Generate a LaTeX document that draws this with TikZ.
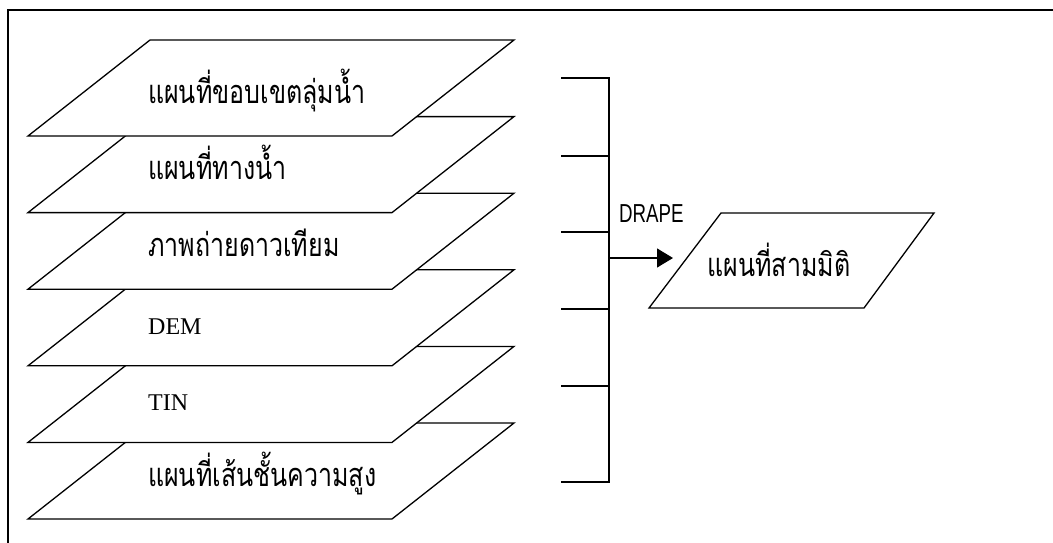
\documentclass[tikz,border=0pt]{standalone}
\usepackage{fontspec}
\usepackage{graphicx}
\setmainfont{Liberation Serif}
\newfontfamily\thaifont[Script=Thai]{Loma}
\newfontfamily\drapefont{Liberation Sans}
\newcommand{\thtext}[1]{\scalebox{1}[1.3]{#1}}
\usetikzlibrary{arrows.meta}
\tikzset{
  layerbox/.style={draw=black, fill=white, line width=1.3pt, line join=miter},
  thailabel/.style={anchor=base west, inner sep=0pt, font=\thaifont\fontsize{25}{30}\selectfont},
  latlabel/.style={anchor=base west, inner sep=0pt, font=\fontsize{24}{26}\selectfont},
  wire/.style={draw=black, line width=1.3pt},
}
\begin{document}
\begin{tikzpicture}[x=1pt,y=-1pt]
\useasboundingbox (0,0) rectangle (1053,543);
\draw[line width=1.6pt] (8,543) -- (8,10) -- (1053,10);
% layers from bottom to top
\foreach \i/\b in {6/519, 5/442.4, 4/365.8, 3/289.2, 2/212.6, 1/136}{
  \path[layerbox] (28,\b) -- (392,\b) -- (514,\b-96) -- (150,\b-96) -- cycle;
}
\node[thailabel] (l1) at (148,103) {\thtext{แผนที่ขอบเขตลุ่มน้ำ}};
\node[thailabel] (l2) at (148,179.6) {\thtext{แผนที่ทางน้ำ}};
\node[thailabel] (l3) at (148,256.2) {\thtext{ภาพถ่ายดาวเทียม}};
\node[latlabel] (l4) at (148,334) {DEM};
\node[latlabel] (l5) at (148,410.4) {TIN};
\node[thailabel] (l6) at (148,486) {\thtext{แผนที่เส้นชั้นความสูง}};
% bracket
\coordinate (t1) at (561,78);
\coordinate (t2) at (561,156);
\coordinate (t3) at (561,232);
\coordinate (t4) at (561,309);
\coordinate (t5) at (561,386);
\coordinate (t6) at (561,482);
\coordinate (bt) at (609,78);
\coordinate (bb) at (609,482);
\coordinate (bm) at (609,258);
\draw[wire] (t1) -- (bt) -- (bb) -- (t6);
\foreach \k in {2,3,4,5}{ \draw[wire] (t\k) -- (t\k -| bt); }
% output
\path[layerbox] (649,308) -- (864,308) -- (934,213) -- (721,213) -- cycle;
\node[thailabel, anchor=base] (out) at (779,276) {\thtext{แผนที่สามมิติ}};
\coordinate (tip) at (673,258);
\draw[wire, -{Triangle[length=16pt,width=19pt]}] (bm) -- (tip);
\node[anchor=base west, inner sep=0pt, font=\drapefont\fontsize{26}{28}\selectfont] (drape) at (619,222) {\scalebox{0.72}[1]{DRAPE}};
\end{tikzpicture}
\end{document}
